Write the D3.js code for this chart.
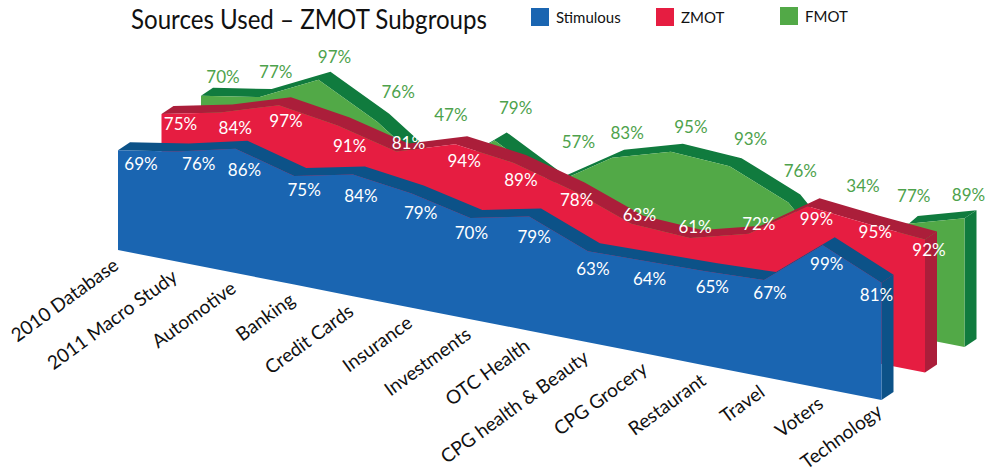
<!DOCTYPE html>
<html>
<head>
<meta charset="utf-8">
<script src="https://cdn.jsdelivr.net/npm/d3@7"></script>
<style>
  html, body { margin: 0; padding: 0; background: #fff; }
  text { font-family: Lato, "Open Sans", sans-serif; }
</style>
</head>
<body>
<div id="res"></div>
<script>
// chart data
const categories = ["2010 Database", "2011 Macro Study", "Automotive", "Banking", "Credit Cards", "Insurance",
    "Investments", "OTC Health", "CPG health & Beauty", "CPG Grocery", "Restaurant", "Travel", "Voters", "Technology"];
const stimulous = [69, 76, 86, 75, 84, 79, 70, 79, 63, 64, 65, 67, 99, 81];
const zmot = [75, 84, 97, 91, 81, 94, 89, 78, 63, 61, 72, 99, 95, 92];
const fmot = [70, 77, 97, 76, 47, 79, 57, 83, 95, 93, 76, 34, 77, 89];
const seriesNames = ["Stimulous", "ZMOT", "FMOT"];

// label nudges from the top corner of each area, the original places them by hand
const stimulousNudgeX = [23, 22, 9, 10, 8, 9, 1, 5, 5, 3, 7, 6, 4, -5];
const stimulousNudgeY = [14, 12, 21, 14, 21, 20, 15, 21, 18, 18, 16, 13, 19, 12];
const zmotNudgeX = [19, 15, 7, 12, 12, 9, 7, 4, 8, 5, 10, 9, 9, 4];
const zmotNudgeY = [10, 16, 16, 21, -8, 17, 17, 10, -9, -11, -10, 13, 9, 11];
const fmotNudgeX = [22, 16, 16, 21, 15, 21, 25, 15, 20, 21, 12, 16, 8, 4];
const fmotNudgeY = [-19, -25, -23, -30, -60, -32, -42, -25, -25, -27, -31, -89, -28, -23];

const width = 992, height = 473;

const svg = d3.select("#res").append("svg")
    .attr("width", width)
    .attr("height", height)
    .style("display", "block");

// the floor runs downhill to the right
const x = d3.scaleLinear().domain([0, categories.length - 1]).range([118, 881.5]);
const floor = d3.scaleLinear().domain([0, categories.length - 1]).range([250, 400]);
const rise = d3.scaleLinear().domain([0, 100]).range([0, 144.7]);

// each series sits further back along the depth axis
const depthX = d3.scaleLinear().domain([0, 1, 2]).range([0, 43.5, 83]);
const depthY = d3.scaleLinear().domain([0, 1, 2]).range([0, -27.5, -53]);
const sliceX = 12, sliceY = -8;

const layers = [
    { name: seriesNames[2], values: fmot, depth: 2, face: "#52a947", dark: "#107b3e", text: "#4ea24c", nx: fmotNudgeX, ny: fmotNudgeY },
    { name: seriesNames[1], values: zmot, depth: 1, face: "#e61d41", dark: "#ab1e3a", text: "#ffffff", nx: zmotNudgeX, ny: zmotNudgeY },
    { name: seriesNames[0], values: stimulous, depth: 0, face: "#1a65b1", dark: "#0c5288", text: "#ffffff", nx: stimulousNudgeX, ny: stimulousNudgeY }
];

layers.forEach(function(s) {
    const ox = depthX(s.depth), oy = depthY(s.depth);
    const g = svg.append("g").attr("class", "layer").attr("transform", `translate(${ox},${oy})`);
    const idx = d3.range(s.values.length);
    const last = idx[idx.length - 1];
    const top = i => floor(i) - rise(s.values[i]);

    // top strip going back
    const strip = d3.area()
        .x0(i => x(i)).y0(top)
        .x1(i => x(i) + sliceX).y1(i => top(i) + sliceY);
    g.append("path").attr("d", strip(idx)).attr("fill", s.dark);

    // right hand side
    const side = d3.area()
        .x0(x(last)).x1(x(last) + sliceX)
        .y0(d => d === 0 ? top(last) : floor(last))
        .y1(d => (d === 0 ? top(last) : floor(last)) + sliceY);
    g.append("path").attr("d", side([0, 1])).attr("fill", s.dark);

    // front
    const front = d3.area().x(i => x(i)).y0(i => floor(i)).y1(top);
    g.append("path").attr("d", front(idx)).attr("fill", s.face);
});

// value labels go over all the layers
layers.forEach(function(s) {
    const ox = depthX(s.depth), oy = depthY(s.depth);
    svg.append("g").selectAll("text")
        .data(s.values)
        .enter().append("text")
        .attr("x", (d, i) => x(i) + ox + s.nx[i])
        .attr("y", (d, i) => floor(i) - rise(d) + oy + s.ny[i] + 6)
        .attr("text-anchor", "middle")
        .style("font-size", "17px")
        .attr("fill", s.text)
        .text(d => d + "%");
});

// category axis, every tick is pushed down to the sloped floor
const xCat = d3.scalePoint().domain(categories).range([x(0), x(categories.length - 1)]);
const axis = svg.append("g").call(d3.axisBottom(xCat).tickSize(0));
axis.select(".domain").remove();
axis.selectAll(".tick")
    .attr("transform", (d, i) => `translate(${xCat(d)},${floor(i) - (i === categories.length - 1 ? 4 : 0)})`)
    .select("text")
    .attr("x", 0)
    .attr("y", 0)
    .attr("dy", 0)
    .attr("text-anchor", "end")
    .attr("fill", "#111")
    .attr("transform", "translate(2,18) rotate(-36)")
    .style("font-size", "19px")
    .style("font-family", "Lato, sans-serif");

// title
svg.append("text")
    .attr("x", 131)
    .attr("y", 29)
    .attr("fill", "#111")
    .attr("textLength", 356)
    .attr("lengthAdjust", "spacingAndGlyphs")
    .style("font-size", "27px")
    .text("Sources Used – ZMOT Subgroups");

// legend
const legendX = d3.scaleOrdinal().domain(seriesNames).range([531, 656, 780]);
const legendColor = d3.scaleOrdinal().domain(seriesNames).range(["#1a65b1", "#e61d41", "#52a947"]);
const legend = svg.append("g").selectAll("g")
    .data(seriesNames)
    .enter().append("g")
    .attr("transform", (d, i) => `translate(${legendX(d)},${i === 2 ? 7 : 8})`);
legend.append("rect")
    .attr("width", 18)
    .attr("height", 18)
    .attr("fill", d => legendColor(d));
legend.append("text")
    .attr("x", 25)
    .attr("y", 15)
    .attr("fill", "#111")
    .style("font-size", "15px")
    .text(d => d);
</script>
</body>
</html>
